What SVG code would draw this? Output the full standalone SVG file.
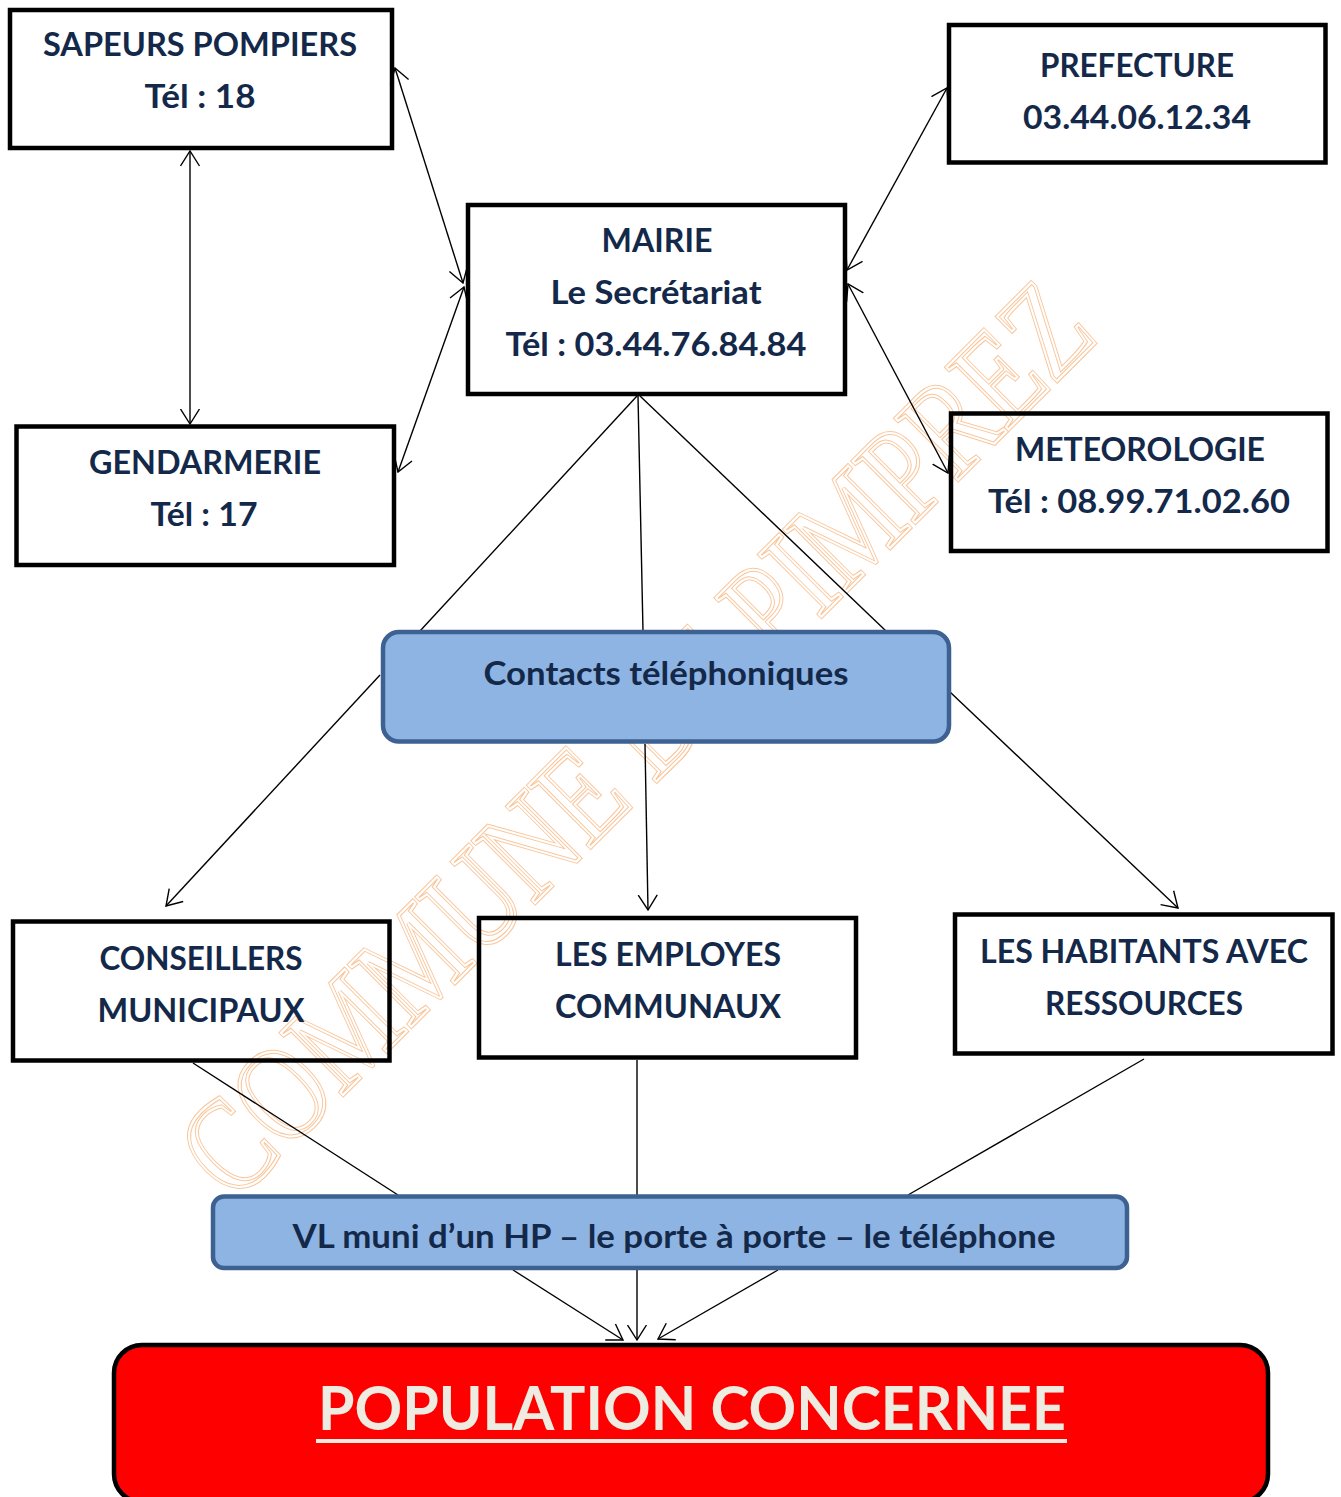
<svg xmlns="http://www.w3.org/2000/svg" width="1341" height="1497" viewBox="0 0 1341 1497">
<style>
.box{fill:none;stroke:#000;stroke-width:4.5}
.blue{fill:#8eb4e3;stroke:#3d6191;stroke-width:4.5}
.t{font-family:Lato,"Liberation Sans",sans-serif;font-weight:bold;font-size:32.5px;fill:#14294a;text-anchor:middle}
.ln{fill:none;stroke:#000;stroke-width:1.4}
.wm{font-family:"Liberation Serif","Times New Roman",serif;font-size:134px}
</style>
<defs>
<marker id="arr" viewBox="0 0 17 21" refX="15.5" refY="10.5" markerWidth="17" markerHeight="21" markerUnits="userSpaceOnUse" orient="auto-start-reverse">
<path d="M0.5,1 L15.5,10.5 L0.5,20" fill="none" stroke="#000" stroke-width="1.4"/>
</marker>
<text id="wmtext" class="wm" x="0" y="0" textLength="1225" lengthAdjust="spacingAndGlyphs">COMMUNE DE PIMPREZ</text>
</defs>
<rect width="1341" height="1497" fill="#fff"/>
<g id="watermark" transform="translate(234,1204) rotate(-45)">
<use href="#wmtext" fill="none" stroke="#f9c59a" stroke-width="4.4"/>
<use href="#wmtext" fill="none" stroke="#fff" stroke-width="2.2"/>
</g>
<g id="connectors">
<line class="ln" x1="190" y1="151" x2="190" y2="424" marker-start="url(#arr)" marker-end="url(#arr)"/>
<line class="ln" x1="395" y1="68" x2="463" y2="283" marker-start="url(#arr)" marker-end="url(#arr)"/>
<line class="ln" x1="464" y1="287" x2="398" y2="472" marker-start="url(#arr)" marker-end="url(#arr)"/>
<line class="ln" x1="947" y1="88" x2="847" y2="270" marker-start="url(#arr)" marker-end="url(#arr)"/>
<line class="ln" x1="848" y1="284" x2="948" y2="473" marker-start="url(#arr)" marker-end="url(#arr)"/>
<line class="ln" x1="637" y1="396" x2="420" y2="631"/>
<line class="ln" x1="638" y1="396" x2="643" y2="631"/>
<line class="ln" x1="640" y1="396" x2="886" y2="631"/>
<line class="ln" x1="380" y1="675" x2="166" y2="906" marker-end="url(#arr)"/>
<line class="ln" x1="645" y1="744" x2="648" y2="910" marker-end="url(#arr)"/>
<line class="ln" x1="950" y1="692" x2="1178" y2="908" marker-end="url(#arr)"/>
<line class="ln" x1="193" y1="1063" x2="398" y2="1195"/>
<line class="ln" x1="637" y1="1060" x2="637" y2="1195"/>
<line class="ln" x1="1144" y1="1059" x2="908" y2="1195"/>
<line class="ln" x1="513" y1="1270" x2="623" y2="1340" marker-end="url(#arr)"/>
<line class="ln" x1="637" y1="1270" x2="637" y2="1340" marker-end="url(#arr)"/>
<line class="ln" x1="778" y1="1270" x2="658" y2="1339" marker-end="url(#arr)"/>
</g>
<g id="sapeurs">
<rect class="box" x="10" y="10" width="382" height="138"/>
<text class="t" x="200" y="56" textLength="314" lengthAdjust="spacingAndGlyphs">SAPEURS POMPIERS</text>
<text class="t" x="200" y="108" textLength="111" lengthAdjust="spacingAndGlyphs">Tél : 18</text>
</g>
<g id="prefecture">
<rect class="box" x="949" y="25" width="376.5" height="137.5"/>
<text class="t" x="1137" y="77" textLength="194" lengthAdjust="spacingAndGlyphs">PREFECTURE</text>
<text class="t" x="1137" y="129" textLength="228" lengthAdjust="spacingAndGlyphs">03.44.06.12.34</text>
</g>
<g id="mairie">
<rect class="box" x="468" y="205" width="377" height="189"/>
<text class="t" x="657" y="252" textLength="111" lengthAdjust="spacingAndGlyphs">MAIRIE</text>
<text class="t" x="656" y="304" textLength="211" lengthAdjust="spacingAndGlyphs">Le Secrétariat</text>
<text class="t" x="656" y="356" textLength="301" lengthAdjust="spacingAndGlyphs">Tél : 03.44.76.84.84</text>
</g>
<g id="gendarmerie">
<rect class="box" x="16.5" y="426.5" width="377.5" height="138.5"/>
<text class="t" x="205" y="474" textLength="232" lengthAdjust="spacingAndGlyphs">GENDARMERIE</text>
<text class="t" x="204" y="526" textLength="107" lengthAdjust="spacingAndGlyphs">Tél : 17</text>
</g>
<g id="meteorologie">
<rect class="box" x="951" y="413.5" width="376.5" height="137.5"/>
<text class="t" x="1140" y="461" textLength="250" lengthAdjust="spacingAndGlyphs">METEOROLOGIE</text>
<text class="t" x="1139" y="513" textLength="302" lengthAdjust="spacingAndGlyphs">Tél : 08.99.71.02.60</text>
</g>
<g id="contacts">
<rect class="blue" x="383" y="632" width="566" height="109.5" rx="16"/>
<text class="t" x="666" y="685" textLength="365" lengthAdjust="spacingAndGlyphs">Contacts téléphoniques</text>
</g>
<g id="conseillers">
<rect class="box" x="13" y="921.5" width="376.5" height="139"/>
<text class="t" x="201" y="970" textLength="203" lengthAdjust="spacingAndGlyphs">CONSEILLERS</text>
<text class="t" x="201" y="1022" textLength="207" lengthAdjust="spacingAndGlyphs">MUNICIPAUX</text>
</g>
<g id="employes">
<rect class="box" x="479" y="918" width="377" height="139.5"/>
<text class="t" x="668" y="966" textLength="226" lengthAdjust="spacingAndGlyphs">LES EMPLOYES</text>
<text class="t" x="668" y="1018" textLength="226" lengthAdjust="spacingAndGlyphs">COMMUNAUX</text>
</g>
<g id="habitants">
<rect class="box" x="955" y="914.5" width="377.5" height="139"/>
<text class="t" x="1144" y="963" textLength="328" lengthAdjust="spacingAndGlyphs">LES HABITANTS AVEC</text>
<text class="t" x="1144" y="1015" textLength="198" lengthAdjust="spacingAndGlyphs">RESSOURCES</text>
</g>
<g id="vl">
<rect class="blue" x="213" y="1196.5" width="914" height="71.5" rx="11"/>
<text class="t" x="674" y="1248" textLength="763" lengthAdjust="spacingAndGlyphs">VL muni d’un HP – le porte à porte – le téléphone</text>
</g>
<g id="population">
<rect x="114" y="1345" width="1154" height="157" rx="28" fill="#ff0000" stroke="#000" stroke-width="4.5"/>
<text x="692" y="1430" font-family="Lato,'Liberation Sans',sans-serif" font-weight="bold" font-size="62" fill="#eeece1" text-anchor="middle" textLength="748" lengthAdjust="spacingAndGlyphs">POPULATION CONCERNEE</text>
<rect x="316" y="1439" width="751" height="4" fill="#eeece1"/>
</g>
</svg>
